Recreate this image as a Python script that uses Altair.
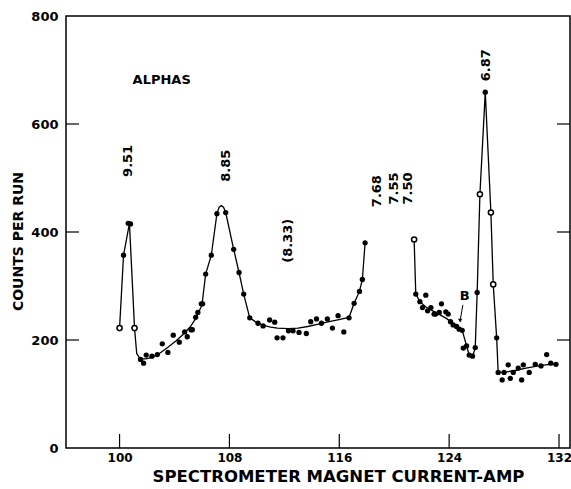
import altair as alt
import pandas as pd

# ---- data ----
pt_x = [100.0, 100.29, 100.63, 100.8, 101.09, 101.53, 101.75, 101.94, 102.36, 102.75, 103.11, 103.52,
        103.91, 104.35, 104.74, 104.93, 105.2, 105.3, 105.54, 105.7, 105.95, 106.05, 106.27, 106.68,
        107.09, 107.73, 108.31, 108.7, 109.04, 109.48, 110.08, 110.45, 110.93, 111.3, 111.47, 111.9,
        112.3, 112.63, 113.07, 113.6, 113.92, 114.34, 114.7, 115.13, 115.5, 115.91, 116.33, 116.71,
        117.08, 117.47, 117.68, 117.88,
        121.45, 121.57, 121.87, 122.06, 122.3, 122.43, 122.67, 122.9, 123.02, 123.28, 123.44, 123.76,
        123.93, 124.1, 124.29, 124.54, 124.73, 124.95, 125.03, 125.27, 125.46, 125.7, 125.9, 126.04,
        126.24, 126.63, 127.04, 127.21, 127.46, 127.57, 127.86, 128.0, 128.3, 128.45, 128.67, 129.03,
        129.28, 129.4, 129.83, 130.27, 130.69, 131.1, 131.4, 131.78]
pt_y = [222, 357, 416, 415, 222, 164, 157, 172, 170, 173, 193, 177,
        209, 196, 215, 206, 219, 219, 242, 251, 267, 267, 322, 357,
        434, 436, 368, 325, 285, 241, 231, 226, 237, 233, 204, 204,
        217, 217, 214, 212, 234, 239, 231, 239, 222, 245, 215, 241,
        268, 290, 312, 380,
        386, 285, 271, 260, 283, 254, 260, 248, 248, 251, 267, 252,
        248, 234, 228, 225, 220, 218, 185, 189, 172, 170, 186, 288,
        470, 659, 436, 303, 204, 140, 126, 140, 154, 129, 140, 148,
        126, 154, 140, 155, 152, 173, 157, 155]
open_pts = [100.0, 101.09, 121.45, 126.24, 127.04, 127.21]

c1_x = [100.0, 100.29, 100.72, 101.09, 101.25, 101.5, 101.9, 102.4, 102.9, 103.5, 104.1, 104.7,
        105.2, 105.6, 106.0, 106.27, 106.68, 107.09, 107.25, 107.41, 107.57, 107.73, 108.31, 108.7,
        109.04, 109.48, 110.0, 110.5, 111.0, 111.5, 112.3, 113.0, 113.7, 114.4, 115.1, 115.8,
        116.71, 117.08, 117.47, 117.68, 117.88]
c1_y = [222, 357, 416, 222, 175, 165, 165, 168, 175, 186, 198, 212,
        226, 242, 265, 322, 357, 434, 446, 449, 446, 436, 368, 325,
        285, 241, 232, 227, 224, 222, 221, 222, 225, 229, 233, 237,
        242, 268, 290, 312, 380]
c2_x = [121.45, 121.57, 121.87, 122.3, 122.8, 123.3, 123.8, 124.2, 124.55, 124.95, 125.27, 125.46,
        125.7, 125.9, 126.04, 126.24, 126.63, 127.04, 127.21, 127.46, 127.57, 128.2, 128.9, 129.6,
        130.3, 131.0, 131.78]
c2_y = [386, 285, 271, 261, 254, 247, 240, 232, 225, 218, 189, 172,
        168, 186, 288, 470, 659, 436, 303, 204, 140, 141, 144, 148,
        151, 154, 156]

lab_text = ["9.51", "8.85", "(8.33)", "7.68", "7.55", "7.50", "6.87"]
lab_x = [100.58, 107.73, 112.24, 118.73, 119.95, 121.0, 126.7]
lab_y = [502, 493, 343, 446, 451, 451, 679]

x_ticks = [100, 108, 116, 124, 132]
y_ticks = [0, 200, 400, 600, 800]

# ---- frames ----
pts = pd.DataFrame({"x": pt_x, "y": pt_y})
pts["open"] = pts["x"].isin(open_pts)
curve = pd.DataFrame({"x": c1_x + c2_x, "y": c1_y + c2_y,
                      "seg": ["a"] * len(c1_x) + ["b"] * len(c2_x)})
labs = pd.DataFrame({"t": lab_text, "x": lab_x, "y": lab_y})

xs = alt.Scale(domain=[96.1, 132.8], nice=False, zero=False)
ys = alt.Scale(domain=[0, 800], nice=False)
FONT = "DejaVu Sans"

X = alt.X("x:Q", scale=xs,
          axis=alt.Axis(values=x_ticks, ticks=False, domain=False, grid=False,
                        labelFont=FONT, labelFontSize=12, labelFontWeight="bold",
                        labelColor="black", labelPadding=4,
                        title="SPECTROMETER MAGNET CURRENT-AMP", titleFont=FONT,
                        titleFontSize=16.5, titleFontWeight="bold", titleColor="black",
                        titlePadding=5, titleX=272))
Y = alt.Y("y:Q", scale=ys,
          axis=alt.Axis(values=y_ticks, ticks=False, domain=False, grid=False,
                        labelFont=FONT, labelFontSize=13, labelFontWeight="bold",
                        labelColor="black", labelPadding=8,
                        title="COUNTS PER RUN", titleFont=FONT, titleFontSize=14,
                        titleFontWeight="bold", titleColor="black", titlePadding=10,
                        titleX=-41, titleY=225))

line = alt.Chart(curve).mark_line(color="black", strokeWidth=1.3).encode(
    x=X, y=Y, detail="seg:N")

filled = alt.Chart(pts).transform_filter("!datum.open").mark_circle(
    color="black", size=28, opacity=1).encode(x="x:Q", y="y:Q")
hollow = alt.Chart(pts).transform_filter("datum.open").mark_point(
    color="black", fill="white", filled=False, size=26, strokeWidth=1.5, opacity=1
).encode(x="x:Q", y="y:Q")

labels = alt.Chart(labs).mark_text(angle=270, align="left", baseline="middle",
                                   font=FONT, fontSize=13, fontWeight="bold",
                                   color="black").encode(x="x:Q", y="y:Q", text="t:N")

alphas = alt.Chart(pd.DataFrame({"x": [100.95], "y": [681], "t": ["ALPHAS"]})).mark_text(
    align="left", baseline="middle", font=FONT, fontSize=13, fontWeight="bold",
    color="black").encode(x="x:Q", y="y:Q", text="t:N")
btxt = alt.Chart(pd.DataFrame({"x": [125.14], "y": [282], "t": ["B"]})).mark_text(
    align="center", baseline="middle", font=FONT, fontSize=13, fontWeight="bold",
    color="black").encode(x="x:Q", y="y:Q", text="t:N")
arrow = alt.Chart(pd.DataFrame({"x": [125.0], "x2": [124.8], "y": [265], "y2": [236]})).mark_rule(
    color="black", strokeWidth=1).encode(x="x:Q", x2="x2:Q", y="y:Q", y2="y2:Q")
head = alt.Chart(pd.DataFrame({"x": [124.8], "y": [236]})).mark_point(
    shape="triangle-down", filled=True, color="black", size=18, opacity=1).encode(x="x:Q", y="y:Q")

tk = pd.DataFrame({"y": [200, 400, 600]})
ltick = alt.Chart(tk).mark_rule(color="black", strokeWidth=1.2).encode(
    y="y:Q", x=alt.value(0), x2=alt.value(13))
rtick = alt.Chart(tk).mark_rule(color="black", strokeWidth=1.2).encode(
    y="y:Q", x=alt.value(491), x2=alt.value(504))
btick = alt.Chart(pd.DataFrame({"x": x_ticks})).mark_rule(color="black", strokeWidth=1.2).encode(
    x="x:Q", y=alt.value(432), y2=alt.value(418))

chart = alt.layer(line, filled, hollow, labels, alphas, btxt, arrow, head,
                  ltick, rtick, btick).properties(
    width=504, height=432,
    autosize=alt.AutoSizeParams(type="none"),
    padding={"left": 66, "top": 16, "right": 1, "bottom": 41},
    background="white",
).configure_view(stroke="black", strokeWidth=1.5)

chart.save("out.html", embed_options={"renderer": "svg", "actions": False})
